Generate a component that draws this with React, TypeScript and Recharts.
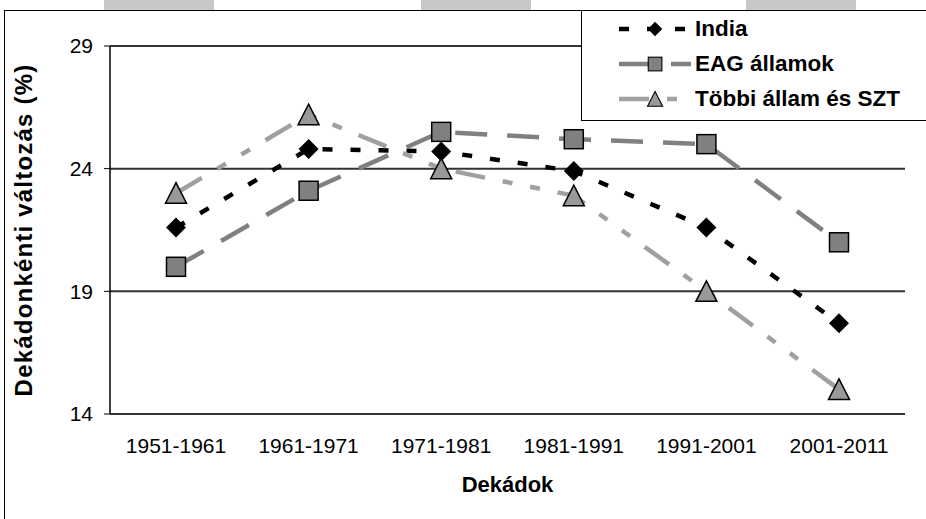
import React from "react";
import { CartesianGrid, Legend, Line, LineChart, XAxis, YAxis } from "recharts";

const decades = ["1951-1961", "1961-1971", "1971-1981", "1981-1991", "1991-2001", "2001-2011"];
const indiaValues = [21.6, 24.8, 24.7, 23.9, 21.6, 17.7];
const eagValues = [20.0, 23.1, 25.5, 25.2, 25.0, 21.0];
const otherValues = [23.0, 26.2, 24.0, 22.9, 19.0, 15.0];
const yTicks = [14, 19, 24, 29];
const categoryEdges = [0, 1, 2, 3, 4, 5, 6];

const data = decades.map((decade, i) => ({
  decade,
  india: indiaValues[i],
  eag: eagValues[i],
  other: otherValues[i],
}));

const font = "'Liberation Sans', Arial, sans-serif";

type DotProps = { cx?: number; cy?: number };

const DiamondDot = ({ cx, cy }: DotProps) => {
  if (cx == null || cy == null) return null;
  const r = 10;
  return <path d={`M${cx},${cy - r}L${cx + r},${cy}L${cx},${cy + r}L${cx - r},${cy}Z`} fill="#000" />;
};

const SquareDot = ({ cx, cy }: DotProps) => {
  if (cx == null || cy == null) return null;
  return <rect x={cx - 9.5} y={cy - 9.5} width={19} height={19} fill="#808080" stroke="#000" strokeWidth={1.5} />;
};

const TriangleDot = ({ cx, cy }: DotProps) => {
  if (cx == null || cy == null) return null;
  return (
    <path
      d={`M${cx},${cy - 10.5}L${cx + 10.5},${cy + 10}L${cx - 10.5},${cy + 10}Z`}
      fill="#999999"
      stroke="#000"
      strokeWidth={1.5}
      strokeLinejoin="miter"
    />
  );
};

const series = [
  { key: "india", name: "India", color: "#000000", dash: "10 18", width: 4.5, Dot: DiamondDot },
  { key: "eag", name: "EAG államok", color: "#808080", dash: "32 20", width: 4.5, Dot: SquareDot },
  { key: "other", name: "Többi állam és SZT", color: "#a0a0a0", dash: "30 18 10 18 10 18", width: 4.5, Dot: TriangleDot },
];

function LegendBox() {
  return (
    <div
      style={{
        width: 400,
        height: 109,
        border: "1px solid #000",
        background: "#fff",
        boxSizing: "content-box",
      }}
    >
      {series.map((s) => (
        <div key={s.key} style={{ display: "flex", alignItems: "center", height: 35, marginLeft: 36 }}>
          <svg width={76} height={24}>
            <line x1={1} y1={12} x2={73} y2={12} stroke={s.color} strokeWidth={s.width} strokeDasharray={s.dash} />
            <g transform="scale(0.72) translate(14.5, 4.7)">
              <s.Dot cx={37} cy={12} />
            </g>
          </svg>
          <span style={{ fontFamily: font, fontWeight: "bold", fontSize: 22.5, color: "#000", marginLeft: 1 }}>
            {s.name}
          </span>
        </div>
      ))}
    </div>
  );
}

const YTitle = (props: any) => {
  const vb = props.viewBox || { y: 46, height: 368 };
  const x = 32;
  const y = vb.y + vb.height / 2;
  return (
    <text
      x={x}
      y={y}
      transform={`rotate(-90 ${x} ${y})`}
      textAnchor="middle"
      fontWeight="bold"
      fontSize={24}
      letterSpacing={1.2}
      fill="#000"
      fontFamily={font}
    >
      Dekádonkénti változás (%)
    </text>
  );
};

export default function App() {
  return (
    <div
      style={{
        position: "absolute",
        left: 0,
        top: 0,
        width: 926,
        height: 519,
        overflow: "hidden",
        background: "#fff",
        fontFamily: font,
      }}
    >
      {[104, 421, 746].map((x) => (
        <div key={x} style={{ position: "absolute", left: x, top: 0, width: 110, height: 10, background: "#c8c8c8" }} />
      ))}
      <div
        style={{
          position: "absolute",
          left: 4,
          top: 10,
          width: 1000,
          height: 600,
          borderLeft: "1px solid #000",
          borderTop: "1px solid #000",
        }}
      />
      <div style={{ position: "absolute", left: 0, top: 0 }}>
        <LineChart width={926} height={519} data={data} margin={{ top: 46, right: 21, bottom: 0, left: 0 }}>
          <CartesianGrid xAxisId="cat" yAxisId="left" vertical={false} stroke="#333" strokeWidth={2} />
          <XAxis
            xAxisId="frame"
            type="number"
            domain={[0, 6]}
            ticks={categoryEdges}
            tickFormatter={() => ""}
            height={0}
            allowDataOverflow
            axisLine={{ stroke: "#000", strokeWidth: 2 }}
            tickLine={{ stroke: "#000", strokeWidth: 1 }}
            tickSize={6}
          />
          <XAxis
            xAxisId="cat"
            dataKey="decade"
            height={105}
            interval={0}
            padding={{ left: 66, right: 66 }}
            axisLine={false}
            tickLine={false}
            tickSize={0}
            tickMargin={24}
            tick={{ fill: "#000", fontSize: 21, fontFamily: font }}
            label={{
              value: "Dekádok",
              position: "insideBottom",
              offset: 27,
              fill: "#000",
              fontSize: 22,
              fontWeight: "bold",
              fontFamily: font,
            }}
          />
          <YAxis
            yAxisId="left"
            width={110}
            domain={[14, 29]}
            ticks={yTicks}
            interval={0}
            axisLine={{ stroke: "#000", strokeWidth: 1.5 }}
            tickLine={{ stroke: "#000", strokeWidth: 1 }}
            tickSize={6}
            tickMargin={11}
            tick={{ fill: "#000", fontSize: 21, fontFamily: font }}
            label={(p: any) => <YTitle {...p} />}
          />
          <YAxis
            yAxisId="right"
            orientation="right"
            width={0}
            domain={[14, 29]}
            tick={false}
            tickLine={false}
            axisLine={{ stroke: "#333", strokeWidth: 1.5 }}
          />
          {series.map((s) => (
            <Line
              key={s.key}
              xAxisId="cat"
              yAxisId="left"
              type="linear"
              dataKey={s.key}
              name={s.name}
              stroke={s.color}
              strokeWidth={s.width}
              strokeDasharray={s.dash}
              strokeLinecap="butt"
              dot={(p: any) => <s.Dot key={`${s.key}-${p.index}`} cx={p.cx} cy={p.cy} />}
              activeDot={false}
              isAnimationActive={false}
            />
          ))}
          <Legend
            layout="vertical"
            align="center"
            verticalAlign="middle"
            content={() => <LegendBox />}
            wrapperStyle={{ position: "absolute", left: 581, top: 10, width: 402 }}
          />
        </LineChart>
      </div>
    </div>
  );
}
